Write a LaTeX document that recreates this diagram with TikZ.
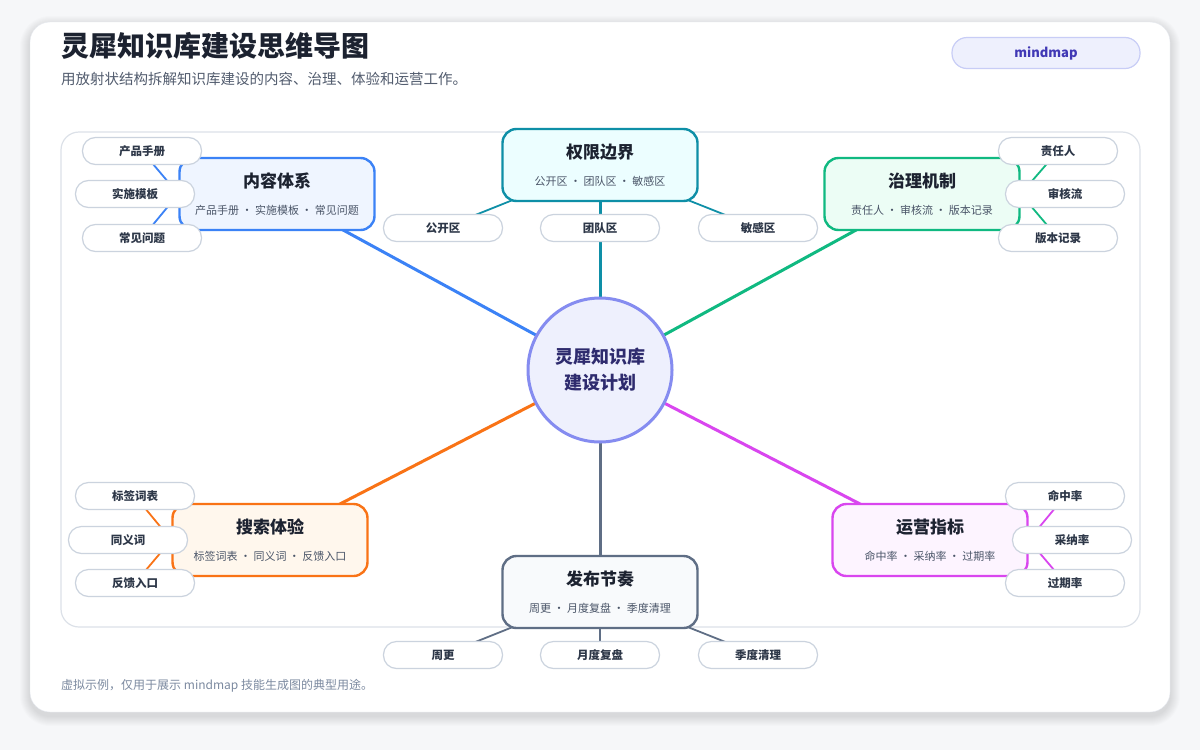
\documentclass[tikz,border=0pt]{standalone}
\usepackage{fontspec}
\setmainfont{Noto Sans CJK SC}

\definecolor{pagebg}{HTML}{F6F7F9}
\definecolor{cardline}{HTML}{E6E9EF}
\definecolor{panelline}{HTML}{DCE1E8}
\definecolor{titlec}{HTML}{1C2230}
\definecolor{subc}{HTML}{525C6E}
\definecolor{footc}{HTML}{7C8AA0}
\definecolor{pillfill}{HTML}{EEF0FD}
\definecolor{pillline}{HTML}{C8CDF6}
\definecolor{pilltext}{HTML}{4038B5}
\definecolor{hubfill}{HTML}{EEF0FD}
\definecolor{hubline}{HTML}{858CF0}
\definecolor{hubtext}{HTML}{2E2B6E}
\definecolor{leafline}{HTML}{CBD3DE}
\definecolor{leaftext}{HTML}{2D3748}
\definecolor{boxsub}{HTML}{4A5568}
\definecolor{cblue}{HTML}{3B82F6}   \definecolor{fblue}{HTML}{EFF5FF}
\definecolor{cteal}{HTML}{0E8FA7}   \definecolor{fteal}{HTML}{ECFEFF}
\definecolor{cgreen}{HTML}{10B981}  \definecolor{fgreen}{HTML}{ECFDF5}
\definecolor{corange}{HTML}{F97316} \definecolor{forange}{HTML}{FFF7ED}
\definecolor{cpink}{HTML}{D946EF}   \definecolor{fpink}{HTML}{FDF4FF}
\definecolor{cslate}{HTML}{5F6E85}  \definecolor{fslate}{HTML}{F8FAFC}

\pgfdeclarelayer{card}
\pgfdeclarelayer{wires}
\pgfsetlayers{card,wires,main}

% title line and summary line of a branch box
\newcommand{\branchtext}[2]{{\fontsize{17}{20}\selectfont\bfseries #1}\\[15pt]{\fontsize{11}{13}\selectfont\color{boxsub}#2}}

\begin{document}
\begin{tikzpicture}[
    x=1pt, y=-1pt,
    branch/.style={rectangle, rounded corners=14pt, line width=2.4pt, minimum width=195pt, minimum height=72pt, align=center, text=titlec, inner sep=0pt},
    leaf/.style={rectangle, rounded corners=13pt, draw=leafline, line width=1.2pt, fill=white, minimum width=119pt, minimum height=27pt, inner sep=0pt, text=leaftext, font=\fontsize{11.5}{13}\selectfont\bfseries},
    spoke/.style={line width=3pt},
    twig/.style={line width=1.8pt}
  ]

  \useasboundingbox (0,0) rectangle (1200,750);

  \begin{pgfonlayer}{card}
    \fill[pagebg] (0,0) rectangle (1200,750);
    % soft shadow under the card
    \foreach \spread in {1,...,10}
      \fill[black, opacity=0.012, rounded corners=20pt+\spread pt] (30-\spread,26-\spread) rectangle (1170+\spread,716+\spread);
    \filldraw[fill=white, draw=cardline, rounded corners=20pt] (30,22) rectangle (1170,712);
    \draw[panelline, line width=1.2pt, rounded corners=18pt] (61,132) rectangle (1140,627);
  \end{pgfonlayer}

  % heading
  \node[anchor=west, text=titlec, font=\fontsize{28}{32}\selectfont\bfseries, inner sep=0pt] (title) at (61,46) {灵犀知识库建设思维导图};
  \node[anchor=west, text=subc, font=\fontsize{14.5}{17}\selectfont, inner sep=0pt] (subtitle) at (61,79) {用放射状结构拆解知识库建设的内容、治理、体验和运营工作。};
  \node[rectangle, rounded corners=15pt, fill=pillfill, draw=pillline, line width=1.2pt, minimum width=188pt, minimum height=31pt, text=pilltext, font=\fontsize{13}{15}\selectfont\bfseries] (tag) at (1046,53) {mindmap};
  \node[anchor=west, text=footc, font=\fontsize{12}{14}\selectfont, inner sep=0pt] (footer) at (61,686) {虚拟示例，仅用于展示 mindmap 技能生成图的典型用途。};

  % hub
  \node[circle, minimum size=144pt, fill=hubfill, draw=hubline, line width=3pt, align=center, text=hubtext, font=\fontsize{18}{26}\selectfont\bfseries] (hub) at (600,370) {灵犀知识库\\建设计划};

  % branches
  \node[branch, draw=cblue, fill=fblue]     (content) at (277,194) {\branchtext{内容体系}{产品手册 · 实施模板 · 常见问题}};
  \node[branch, draw=cteal, fill=fteal]     (access)  at (600,165) {\branchtext{权限边界}{公开区 · 团队区 · 敏感区}};
  \node[branch, draw=cgreen, fill=fgreen]   (govern)  at (922,194) {\branchtext{治理机制}{责任人 · 审核流 · 版本记录}};
  \node[branch, draw=corange, fill=forange] (search)  at (270,540) {\branchtext{搜索体验}{标签词表 · 同义词 · 反馈入口}};
  \node[branch, draw=cpink, fill=fpink]     (ops)     at (930,540) {\branchtext{运营指标}{命中率 · 采纳率 · 过期率}};
  \node[branch, draw=cslate, fill=fslate]   (release) at (600,592) {\branchtext{发布节奏}{周更 · 月度复盘 · 季度清理}};

  % leaves
  \node[leaf] (manual)   at (142,151) {产品手册};
  \node[leaf] (template) at (135,194) {实施模板};
  \node[leaf] (faq)      at (142,238) {常见问题};

  \node[leaf] (public)   at (443,228) {公开区};
  \node[leaf] (team)     at (600,228) {团队区};
  \node[leaf] (secret)   at (758,228) {敏感区};

  \node[leaf] (owner)    at (1058,151) {责任人};
  \node[leaf] (review)   at (1065,194) {审核流};
  \node[leaf] (history)  at (1058,238) {版本记录};

  \node[leaf] (tags)     at (135,496) {标签词表};
  \node[leaf] (synonym)  at (128,540) {同义词};
  \node[leaf] (feedback) at (135,583) {反馈入口};

  \node[leaf] (hit)      at (1065,496) {命中率};
  \node[leaf] (adopt)    at (1072,540) {采纳率};
  \node[leaf] (stale)    at (1065,583) {过期率};

  \node[leaf] (weekly)   at (443,655) {周更};
  \node[leaf] (monthly)  at (600,655) {月度复盘};
  \node[leaf] (quarter)  at (758,655) {季度清理};

  % connectors
  \begin{pgfonlayer}{wires}
    \draw[spoke, cblue]   (hub.center) -- (content.center);
    \draw[spoke, cteal]   (hub.center) -- (access.center);
    \draw[spoke, cgreen]  (hub.center) -- (govern.center);
    \draw[spoke, corange] (hub.center) -- (search.center);
    \draw[spoke, cpink]   (hub.center) -- (ops.center);
    \draw[spoke, cslate]  (hub.center) -- (release.center);

    \foreach \leafname in {manual, template, faq}
      \draw[twig, cblue] (content.west) -- (\leafname.center);
    \foreach \leafname in {public, team, secret}
      \draw[twig, cteal] (access.center) -- (\leafname.center);
    \foreach \leafname in {owner, review, history}
      \draw[twig, cgreen] (govern.east) -- (\leafname.center);
    \foreach \leafname in {tags, synonym, feedback}
      \draw[twig, corange] (search.west) -- (\leafname.center);
    \foreach \leafname in {hit, adopt, stale}
      \draw[twig, cpink] (ops.east) -- (\leafname.center);
    \foreach \leafname in {weekly, monthly, quarter}
      \draw[twig, cslate] (release.center) -- (\leafname.center);
  \end{pgfonlayer}

\end{tikzpicture}
\end{document}
